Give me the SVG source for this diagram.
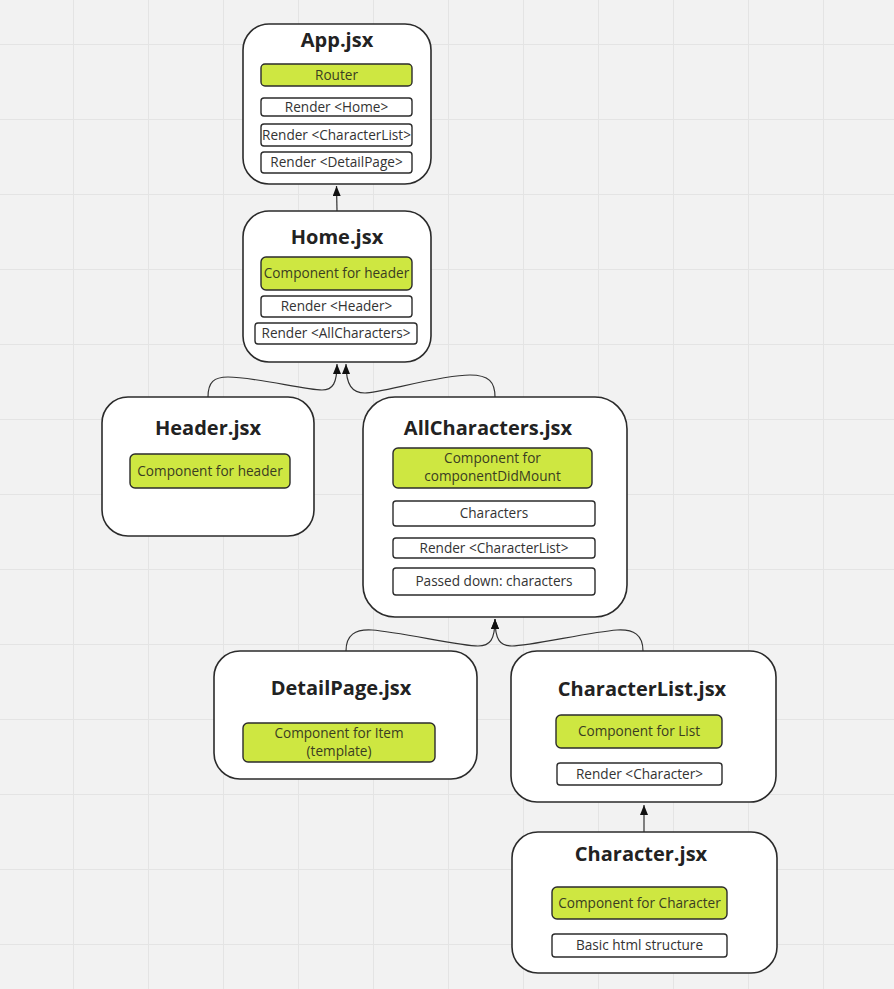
<svg xmlns="http://www.w3.org/2000/svg" width="894" height="989" viewBox="0 0 894 989">
<defs>
<style>
.node{fill:#ffffff;stroke:#2b2b2b;stroke-width:1.6}
.g{fill:#cee741;stroke:#2b2b2b;stroke-width:1.4}
.w{fill:#ffffff;stroke:#2b2b2b;stroke-width:1.4}
.t{font-family:"Open Sans","Noto Sans","DejaVu Sans",sans-serif;font-weight:700;font-size:20px;fill:#222;text-anchor:middle}
.l{font-family:"Open Sans","Noto Sans","DejaVu Sans",sans-serif;font-size:13.6px;fill:#333;text-anchor:middle}
.gl{fill:#3a3d22}
.c{fill:none;stroke:#333;stroke-width:1.2}
.grid line{stroke:#e4e4e4;stroke-width:1}
</style>
<marker id="ah" markerUnits="userSpaceOnUse" markerWidth="12" markerHeight="8" refX="10" refY="4" orient="auto">
<path d="M0,0 L10,4 L0,8 z" fill="#111"/>
</marker>
</defs>
<rect x="0" y="0" width="894" height="989" fill="#f2f2f2"/>
<g class="grid">
<line x1="73.5" y1="0" x2="73.5" y2="989"/><line x1="148.5" y1="0" x2="148.5" y2="989"/><line x1="223.5" y1="0" x2="223.5" y2="989"/><line x1="298.5" y1="0" x2="298.5" y2="989"/><line x1="373.5" y1="0" x2="373.5" y2="989"/><line x1="448.5" y1="0" x2="448.5" y2="989"/><line x1="523.5" y1="0" x2="523.5" y2="989"/><line x1="598.5" y1="0" x2="598.5" y2="989"/><line x1="673.5" y1="0" x2="673.5" y2="989"/><line x1="748.5" y1="0" x2="748.5" y2="989"/><line x1="823.5" y1="0" x2="823.5" y2="989"/>
<line x1="0" y1="44.5" x2="894" y2="44.5"/><line x1="0" y1="119.5" x2="894" y2="119.5"/><line x1="0" y1="194.5" x2="894" y2="194.5"/><line x1="0" y1="269.5" x2="894" y2="269.5"/><line x1="0" y1="344.5" x2="894" y2="344.5"/><line x1="0" y1="419.5" x2="894" y2="419.5"/><line x1="0" y1="494.5" x2="894" y2="494.5"/><line x1="0" y1="569.5" x2="894" y2="569.5"/><line x1="0" y1="644.5" x2="894" y2="644.5"/><line x1="0" y1="719.5" x2="894" y2="719.5"/><line x1="0" y1="794.5" x2="894" y2="794.5"/><line x1="0" y1="869.5" x2="894" y2="869.5"/><line x1="0" y1="944.5" x2="894" y2="944.5"/>
</g>
<g id="connectors">
<path class="c" d="M337,211 L336.5,186" marker-end="url(#ah)"/>
<path class="c" d="M208,397 C208,382 214,377 228,377 C255,377 305,390 322,390 C333,390 337,383 337,364" marker-end="url(#ah)"/>
<path class="c" d="M495,397 C495,382 489,375 470,375 C440,375 380,393 365,393 C352,393 346,385 346,364" marker-end="url(#ah)"/>
<path class="c" d="M346,651 C346,635 355,629 372,630 C400,632 460,646 478,646 C490,646 495,640 495,619" marker-end="url(#ah)"/>
<path class="c" d="M643,651 C643,635 634,629 617,630 C590,632 530,646 512,646 C500,646 495,640 495,619" marker-end="url(#ah)"/>
<path class="c" d="M644,832 L644,805" marker-end="url(#ah)"/>
</g>
<g id="app">
<rect class="node" x="243" y="24" width="188" height="160" rx="26"/>
<text class="t" x="337" y="47">App.jsx</text>
<rect class="g" x="261" y="64" width="151" height="22" rx="4"/>
<text class="l gl" x="336.5" y="79.5">Router</text>
<rect class="w" x="261" y="98" width="151" height="18" rx="3"/>
<text class="l" x="336.5" y="111.5">Render &lt;Home&gt;</text>
<rect class="w" x="261" y="124" width="151" height="22" rx="3"/>
<text class="l" x="336.5" y="139.5">Render &lt;CharacterList&gt;</text>
<rect class="w" x="261" y="152" width="151" height="21" rx="3"/>
<text class="l" x="336.5" y="167">Render &lt;DetailPage&gt;</text>
</g>
<g id="home">
<rect class="node" x="243" y="211" width="188" height="151" rx="26"/>
<text class="t" x="337" y="244">Home.jsx</text>
<rect class="g" x="261" y="257" width="151" height="33" rx="5"/>
<text class="l gl" x="336.5" y="278">Component for header</text>
<rect class="w" x="261" y="296" width="151" height="21" rx="3"/>
<text class="l" x="336.5" y="311">Render &lt;Header&gt;</text>
<rect class="w" x="255" y="323" width="162" height="21" rx="3"/>
<text class="l" x="336" y="338">Render &lt;AllCharacters&gt;</text>
</g>
<g id="header">
<rect class="node" x="102" y="397" width="212" height="139" rx="26"/>
<text class="t" x="208" y="435">Header.jsx</text>
<rect class="g" x="130" y="454" width="160" height="34" rx="5"/>
<text class="l gl" x="210" y="475.5">Component for header</text>
</g>
<g id="allcharacters">
<rect class="node" x="363" y="397" width="264" height="220" rx="32"/>
<text class="t" x="488" y="435">AllCharacters.jsx</text>
<rect class="g" x="393" y="448" width="199" height="40" rx="5"/>
<text class="l gl" x="492.5" y="462.5">Component for</text>
<text class="l gl" x="492.5" y="481">componentDidMount</text>
<rect class="w" x="393" y="501" width="202" height="25" rx="3"/>
<text class="l" x="494" y="518">Characters</text>
<rect class="w" x="393" y="538" width="202" height="20" rx="3"/>
<text class="l" x="494" y="552.5">Render &lt;CharacterList&gt;</text>
<rect class="w" x="393" y="568" width="202" height="27" rx="3"/>
<text class="l" x="494" y="586">Passed down: characters</text>
</g>
<g id="detailpage">
<rect class="node" x="214" y="651" width="263" height="128" rx="26"/>
<text class="t" x="341" y="695">DetailPage.jsx</text>
<rect class="g" x="243" y="723" width="192" height="39" rx="5"/>
<text class="l gl" x="339" y="737.5">Component for Item</text>
<text class="l gl" x="339" y="756">(template)</text>
</g>
<g id="characterlist">
<rect class="node" x="511" y="651" width="265" height="151" rx="26"/>
<text class="t" x="642" y="696">CharacterList.jsx</text>
<rect class="g" x="556" y="715" width="166" height="33" rx="5"/>
<text class="l gl" x="639" y="736">Component for List</text>
<rect class="w" x="557" y="763" width="165" height="22" rx="3"/>
<text class="l" x="639.5" y="778.5">Render &lt;Character&gt;</text>
</g>
<g id="character">
<rect class="node" x="512" y="832" width="265" height="141" rx="26"/>
<text class="t" x="641" y="861">Character.jsx</text>
<rect class="g" x="552" y="887" width="175" height="32" rx="5"/>
<text class="l gl" x="639.5" y="907.5">Component for Character</text>
<rect class="w" x="552" y="934" width="175" height="23" rx="3"/>
<text class="l" x="639.5" y="950">Basic html structure</text>
</g>
</svg>
